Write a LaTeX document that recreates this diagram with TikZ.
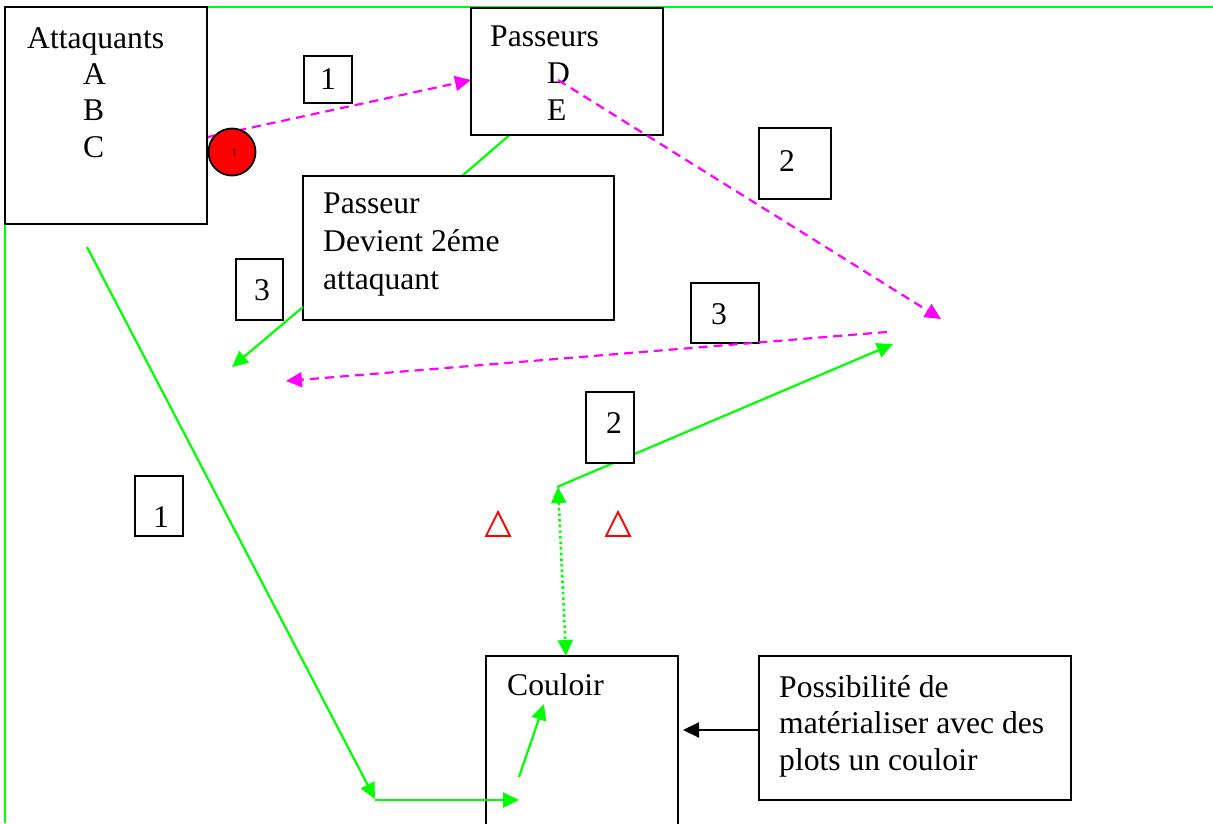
\documentclass[tikz,border=0pt]{standalone}
\usepackage{fontspec}
\setmainfont{Liberation Serif}
\usetikzlibrary{arrows.meta}
\definecolor{lime}{RGB}{0,255,0}
\definecolor{mag}{RGB}{255,0,255}
\begin{document}
\begin{tikzpicture}[x=1pt,y=-1pt,
  box/.style={draw=black,line width=2pt,fill=white,inner sep=0pt},
  txt/.style={font=\fontsize{31.6}{36.5}\selectfont,inner sep=0pt,anchor=base west},
  numbox/.style={box,font=\fontsize{31.6}{36.5}\selectfont},
  gline/.style={draw=lime,line width=2.2pt},
  tip/.style={-{Triangle[length=16pt,width=15pt]}},
  garrow/.style={gline,tip},
  marrow/.style={draw=mag,line width=2.2pt,dash pattern=on 9pt off 6pt,tip},
  cone/.style={draw=red,line width=1.8pt,line join=miter}]
\useasboundingbox (0,0) rectangle (1213,823);
% field border
\coordinate (fbl) at (5,823);
\coordinate (ftl) at (5,7);
\coordinate (ftr) at (1213,7);
\draw[gline] (fbl) -- (ftl) -- (ftr);

% free coordinates
\coordinate (m1s) at (208,137);
\coordinate (m2s) at (558,80);
\coordinate (m2e) at (941,319);
\coordinate (m3s) at (887,332);
\coordinate (m3e) at (286,381);
\coordinate (g3s) at (303,307);
\coordinate (g3e) at (232,367);
\coordinate (gcorner) at (557,487);
\coordinate (g2e) at (893,344);
\coordinate (gls) at (87,247);
\coordinate (glc) at (375,799);
\coordinate (glh) at (375,800);
\coordinate (glhe) at (519,800);
\coordinate (gss) at (519,777);
\coordinate (gse) at (544,704);
\coordinate (dots) at (558,487);
\coordinate (dote) at (566,656);
\coordinate (pp1) at (520,126);
\coordinate (pp2) at (462,176);
\coordinate (bas) at (759,730);
\coordinate (bae) at (683,730);

% connectors under boxes
\draw[marrow] (m1s) -- (471,80) coordinate (m1e);
\draw[garrow] (gcorner) -- (g2e);
\draw[gline] (pp1) -- (pp2);

% boxes
\node[box,minimum width=202pt,minimum height=217pt] (att) at (106,115.5) {};
\node[box,minimum width=192pt,minimum height=127pt] (pas) at (567,71.5) {};
\node[box,minimum width=311pt,minimum height=144pt] (pasr) at (458.5,248) {};
\node[box,minimum width=192pt,minimum height=172pt] (cou) at (582,742) {};
\node[box,minimum width=312pt,minimum height=144pt] (pos) at (915,728) {};

\node[numbox,minimum width=48pt,minimum height=47pt] (n1a) at (328,79.5) {1};
\node[numbox,minimum width=72pt,minimum height=71pt] (n2a) at (795,163.5) {};
\node[txt] (n2at) at (779,171) {2};
\node[numbox,minimum width=47pt,minimum height=61pt] (n3a) at (259.5,289.5) {};
\node[txt] (n3at) at (254,300) {3};
\node[numbox,minimum width=68pt,minimum height=60pt] (n3b) at (725,313) {};
\node[txt] (n3bt) at (711,324) {3};
\node[numbox,minimum width=48pt,minimum height=71pt] (n2b) at (610,427.5) {};
\node[txt] (n2bt) at (606,433) {2};
\node[numbox,minimum width=48pt,minimum height=60pt] (n1b) at (159,506) {};
\node[txt] (n1bt) at (153,527) {1};

% texts
\node[txt] (tatt) at (27,48) {Attaquants};
\node[txt] (ta) at (83,84) {A};
\node[txt] (tb) at (83,120.5) {B};
\node[txt] (tc) at (83,157) {C};
\node[txt] (tpas) at (490,46) {Passeurs};
\node[txt] (td) at (547,83) {D};
\node[txt] (te) at (547,120) {E};
\node[txt] (tp1) at (323,213) {Passeur};
\node[txt] (tp2) at (323,251) {Devient 2éme};
\node[txt] (tp3) at (323,289) {attaquant};
\node[txt] (tcou) at (507,695) {Couloir};
\node[txt] (tpo1) at (779,697) {Possibilité de};
\node[txt] (tpo2) at (779,733.5) {matérialiser avec des};
\node[txt] (tpo3) at (779,770) {plots un couloir};

% ball
\node[circle,draw=black,fill=red,line width=1.8pt,minimum size=47pt,inner sep=0pt] (ball) at (232,152) {};
\node[font=\fontsize{10}{10}\selectfont,rotate=180,inner sep=0pt] (bmark) at (234.5,153) {1};

% other connectors
\draw[marrow] (m2s) -- (m2e);
\draw[marrow] (m3s) -- (m3e);
\draw[garrow] (g3s) -- (g3e);
\draw[garrow] (gls) -- (glc);
\draw[garrow] (glh) -- (glhe);
\draw[garrow] (gss) -- (gse);
\draw[draw=lime,line width=2.6pt,dash pattern=on 2.6pt off 3pt,{Triangle[length=16pt,width=15pt]}-{Triangle[length=16pt,width=15pt]}] (dots) -- (dote);
\draw[line width=2pt,tip] (bas) -- (bae);

% cones
\draw[cone] (486,536) -- (510,536) -- (498,512) -- cycle;
\draw[cone] (606,536) -- (630,536) -- (618,512) -- cycle;
\end{tikzpicture}
\end{document}
